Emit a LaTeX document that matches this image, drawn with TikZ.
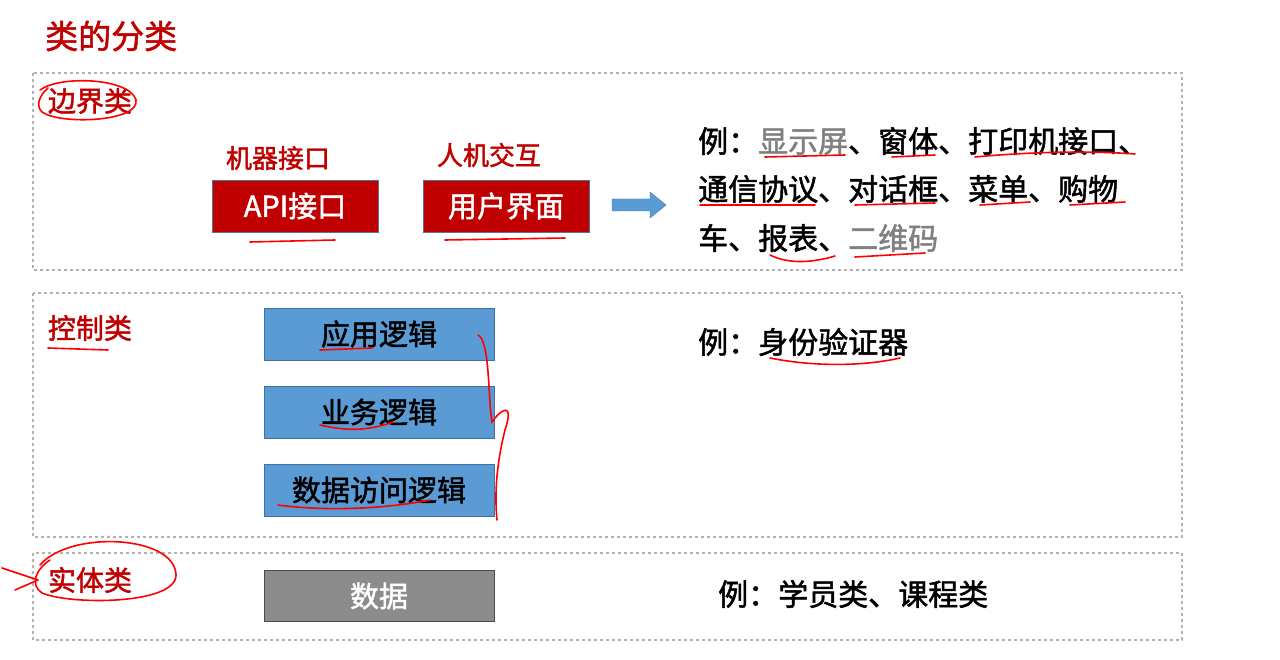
\documentclass[tikz,border=0pt]{standalone}
\usepackage{fontspec}
\setmainfont[FakeBold=1.6]{Noto Sans CJK SC}
\definecolor{slblue}{HTML}{5B9BD5}
\definecolor{slblueb}{HTML}{41719C}
\definecolor{slred}{HTML}{C00000}
\begin{document}
\begin{tikzpicture}[x=1pt,y=-1pt,
  frame/.style={draw=gray!60,dashed,line width=1.2pt},
  redlbl/.style={text=slred,font=\fontsize{28}{32}\selectfont,inner sep=0pt},
  rbox/.style={draw=slblueb!70!gray,fill=slred,text=white,minimum width=166pt,minimum height=52pt,font=\fontsize{29}{32}\selectfont,line width=0.8pt},
  bbox/.style={draw=slblueb,fill=slblue,minimum width=230pt,minimum height=52pt,font=\fontsize{29}{32}\selectfont,line width=0.8pt},
  gbox/.style={draw=gray!60!black,fill=gray!90,text=white,minimum width=230pt,minimum height=51pt,font=\fontsize{29}{32}\selectfont,line width=0.8pt},
  ex/.style={anchor=west,inner sep=0pt,font=\fontsize{30}{34}\selectfont},
  ink/.style={draw=red,line width=1.6pt,line cap=round}]
\useasboundingbox (0,0) rectangle (1280,660);
\fill[white] (0,0) rectangle (1280,660);
\node[redlbl,anchor=west,font=\fontsize{33}{36}\selectfont] (title) at (45,36) {类的分类};
\draw[frame] (33,73) rectangle (1182,270);
\draw[frame] (33,293) rectangle (1182,537);
\draw[frame] (33,553) rectangle (1182,640);
% boundary
\node[redlbl] (bj) at (90,101) {边界类};
\node[redlbl,font=\fontsize{26}{30}\selectfont] (jq) at (278,158) {机器接口};
\node[redlbl,font=\fontsize{26}{30}\selectfont] (rj) at (489,155) {人机交互};
\node[rbox] (api) at (295,206) {API接口};
\node[rbox] (ui) at (506,206) {用户界面};
\fill[slblue,draw=slblueb] (612,199) -- (650,199) -- (650,192) -- (666,205) -- (650,218) -- (650,211) -- (612,211) -- cycle;
\node[ex] (e1) at (698,141) {例：\textcolor{gray}{显示屏}、窗体、打印机接口、};
\node[ex] (e2) at (698,189) {通信协议、对话框、菜单、购物};
\node[ex] (e3) at (698,238) {车、报表、\textcolor{gray}{二维码}};
% control
\node[redlbl] (kz) at (90,328) {控制类};
\node[bbox] (a1) at (379,334) {应用逻辑};
\node[bbox] (a2) at (379,412) {业务逻辑};
\node[bbox] (a3) at (379,490) {数据访问逻辑};
\node[ex] (e4) at (698,342) {例：身份验证器};
% entity
\node[redlbl] (st) at (90,580) {实体类};
\node[gbox] (data) at (379,596) {数据};
\node[ex] (e5) at (718,594) {例：学员类、课程类};
% handwritten annotations
\draw[ink] (40,90) .. controls (60,75) and (130,78) .. (136,100) .. controls (140,122) and (60,125) .. (42,112) .. controls (35,105) and (40,95) .. (48,88);
\draw[ink] (40,565) .. controls (70,530) and (175,535) .. (176,575) .. controls (176,605) and (70,605) .. (42,593) .. controls (30,585) and (35,570) .. (50,560);
\draw[ink] (2,568) -- (38,580) (15,590) -- (38,580);
\draw[ink] (48,348) -- (108,350);
\draw[ink] (250,242) -- (335,240);
\draw[ink] (445,240) -- (565,238);
\draw[ink] (765,157) -- (845,155);
\draw[ink] (892,157) -- (935,155);
\draw[ink] (975,157) .. controls (1050,150) and (1110,152) .. (1135,154);
\draw[ink] (700,205) -- (815,205);
\draw[ink] (855,205) -- (935,203);
\draw[ink] (980,205) -- (1030,202);
\draw[ink] (1070,205) -- (1125,202);
\draw[ink] (770,255) .. controls (790,265) and (815,262) .. (835,256);
\draw[ink] (855,257) -- (925,253);
\draw[ink] (320,350) -- (372,348);
\draw[ink] (320,425) .. controls (350,432) and (370,430) .. (393,422);
\draw[ink] (278,505) .. controls (330,512) and (390,508) .. (430,500);
\draw[ink] (770,358) .. controls (820,368) and (870,365) .. (900,358);
\draw[ink] (478,335) .. controls (490,340) and (488,400) .. (492,422) .. controls (500,410) and (515,400) .. (505,430) .. controls (495,470) and (495,500) .. (497,520);
\end{tikzpicture}
\end{document}
